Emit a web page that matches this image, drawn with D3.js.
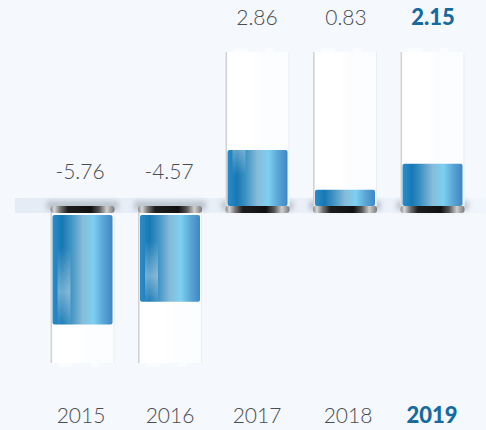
<!DOCTYPE html>
<html><head><meta charset="utf-8">
<script src="https://cdn.jsdelivr.net/npm/d3@7"></script>
<style>html,body{margin:0;padding:0;background:#f5f8fd;overflow:hidden}svg{display:block}text{font-family:Lato,sans-serif}</style>
</head><body><svg id="c" width="486" height="430"></svg>
<script>
const years = ["2015","2016","2017","2018","2019"];
const values = [-5.76,-4.57,2.86,0.83,2.15];
const labels = ["-5.76","-4.57","2.86","0.83","2.15"];
const highlightYear = "2019";

const svg = d3.select("#c");
const W = 486;
const x = d3.scalePoint().domain(years).range([82.5,432.5]);
const BAR_W = 60, GLASS_W = 64;
const capacity = 8;
const upBase = 206, downBase = 215, downGlassTop = 212;
const yUp = d3.scaleLinear().domain([0,capacity]).range([upBase,49.2]);
const yDown = d3.scaleLinear().domain([0,-capacity]).range([downBase,367]);
const upTop = yUp(7.85), downBottom = yDown(-capacity)-4;
const glassY = d => d.v>=0 ? upTop : downGlassTop;
const glassH = d => d.v>=0 ? upBase-upTop : downBottom-downGlassTop;

const defs = svg.append("defs");
const stops = (id, arr, o={}) => {
  const g = defs.append("linearGradient").attr("id",id).attr("x1",o.x1||0).attr("x2",o.x2===undefined?1:o.x2).attr("y1",o.y1||0).attr("y2",o.y2||0);
  arr.forEach(([p,c,a])=>g.append("stop").attr("offset",p).attr("stop-color",c).attr("stop-opacity",a===undefined?1:a));
};
stops("fill",[[0,"#2a8dca"],[.16,"#1778b3"],[.3,"#3e92c3"],[.5,"#86bbd9"],[.68,"#7cd0f1"],[.84,"#5aa6d6"],[1,"#3f86c5"]]);
stops("cap",[[0,"#8a8a8a"],[.06,"#d8d8d8"],[.15,"#777"],[.27,"#1e1e1e"],[.63,"#101010"],[.76,"#555"],[.88,"#cfcfcf"],[1,"#777"]]);
stops("band",[[0,"#e5ecf5"],[.7,"#ebf1f9"],[1,"#f1f5fc"]]);
stops("glass",[[0,"#ffffff",.95],[.4,"#ffffff",1],[.6,"#fbfcfe",1],[1,"#fcfdff",.9]]);
stops("sheenDown",[[0,"#ffffff",0],[.3,"#ffffff",0],[.7,"#ffffff",.38],[1,"#ffffff",.05]],{x2:0,y2:1});
stops("sheenUp",[[0,"#ffffff",.3],[.45,"#ffffff",0],[1,"#ffffff",0]],{x2:0,y2:1});
const blur = defs.append("filter").attr("id","soft").attr("x","-20%").attr("y","-100%").attr("width","140%").attr("height","300%");
blur.append("feGaussianBlur").attr("stdDeviation",2.5);

// floor band
svg.append("rect").attr("x",15).attr("y",198).attr("width",W-15).attr("height",15).attr("fill","url(#band)");

const g = svg.selectAll("g.cell").data(years.map((y,i)=>({y,v:values[i],l:labels[i]}))).join("g").attr("class","cell");

// soft shadow around each cap
g.append("rect")
  .attr("x",d=>x(d.y)-GLASS_W/2-4)
  .attr("y",d=>d.v>=0?201:201)
  .attr("width",GLASS_W+8).attr("height",9)
  .attr("fill","#9aa3ad").attr("opacity",.55).attr("filter","url(#soft)");

// glass bodies and edges
g.append("rect").attr("x",d=>x(d.y)-GLASS_W/2).attr("y",glassY)
  .attr("width",GLASS_W).attr("height",glassH).attr("fill","url(#glass)");
g.append("rect").attr("x",d=>x(d.y)-GLASS_W/2).attr("y",glassY)
  .attr("width",1.6).attr("height",glassH).attr("fill","#cfd2d6");
g.append("rect").attr("x",d=>x(d.y)+GLASS_W/2-1).attr("y",glassY)
  .attr("width",1).attr("height",glassH).attr("fill","#e9ecf0");
// rim tabs at the open end
[[-24,14],[8,8]].forEach(([dx,w])=>{
  g.append("rect")
   .attr("x",d=>x(d.y)+dx)
   .attr("y",d=>d.v>=0?upTop-4:downBottom)
   .attr("width",w).attr("height",4).attr("fill","#fbfcfe");
});

// liquid
const liqY = d => d.v>=0 ? yUp(d.v) : downBase;
const liqH = d => d.v>=0 ? upBase-yUp(d.v) : yDown(d.v)-downBase;
g.append("rect")
  .attr("x",d=>x(d.y)-BAR_W/2).attr("y",liqY)
  .attr("width",BAR_W).attr("height",liqH).attr("rx",2)
  .attr("fill","url(#fill)");
// sheen on the taller columns
g.filter(d=>Math.abs(d.v)>2.5).append("rect")
  .attr("x",d=>x(d.y)-BAR_W/2+5).attr("y",liqY)
  .attr("width",13).attr("height",liqH)
  .attr("fill",d=>d.v>=0?"url(#sheenUp)":"url(#sheenDown)");

// dark caps
g.append("rect")
  .attr("x",d=>x(d.y)-GLASS_W/2).attr("y",206)
  .attr("width",GLASS_W).attr("height",7).attr("rx",3)
  .attr("fill","url(#cap)");

// value labels
const vx = [80,169,257,346,433];
g.append("text")
  .attr("x",(d,i)=>vx[i])
  .attr("y",d=>d.v>=0?25:179)
  .attr("text-anchor","middle")
  .attr("font-size",d=>d.y===highlightYear?22:21)
  .attr("font-weight",d=>d.y===highlightYear?900:300)
  .attr("fill",d=>d.y===highlightYear?"#156a9e":"#4a4d52")
  .text(d=>d.l);
// year labels
const lx = [81,170,257,348,432];
g.append("text")
  .attr("x",(d,i)=>lx[i])
  .attr("y",423)
  .attr("text-anchor","middle")
  .attr("font-size",d=>d.y===highlightYear?22:21)
  .attr("font-weight",d=>d.y===highlightYear?900:300)
  .attr("fill",d=>d.y===highlightYear?"#156a9e":"#4a4d52")
  .text(d=>d.y);
</script></body></html>
